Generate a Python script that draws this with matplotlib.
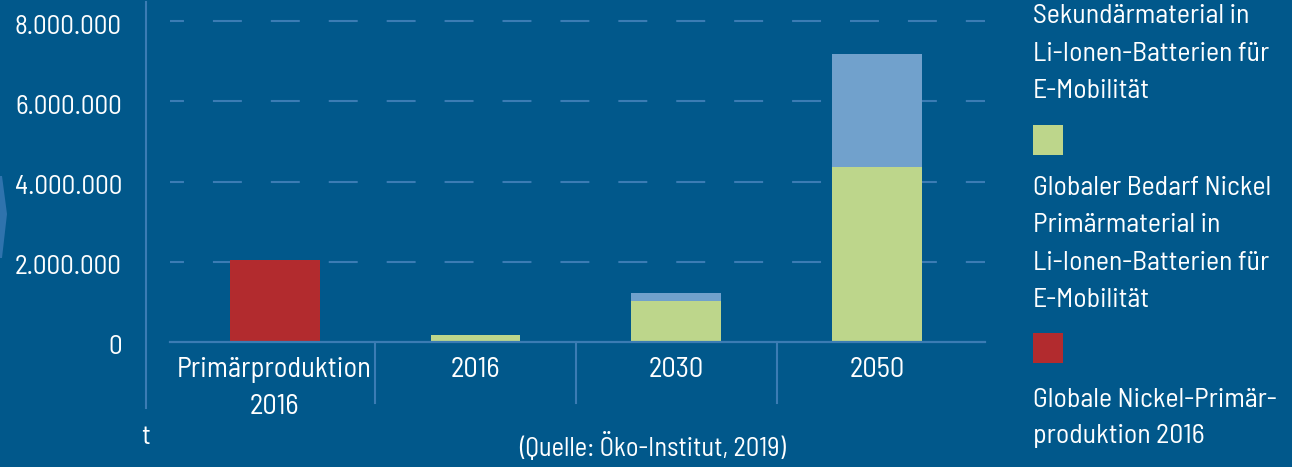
import matplotlib
matplotlib.use('Agg')
import matplotlib.pyplot as plt
from matplotlib.lines import Line2D
from matplotlib.patches import Rectangle, Polygon
from matplotlib.transforms import ScaledTranslation, blended_transform_factory

# Daten (Tonnen Nickel)
categories = ['Primärproduktion\n2016', '2016', '2030', '2050']
primaer_produktion = [2050000, 0, 0, 0]
primaer_batterien = [0, 180000, 1010000, 4370000]
sekundaer_batterien = [0, 0, 210000, 2820000]
yticks = [0, 2000000, 4000000, 6000000, 8000000]
ytick_labels = ['0', '2.000.000', '4.000.000', '6.000.000', '8.000.000']

legend_blau = ['Sekundärmaterial in', 'Li-Ionen-Batterien für', 'E-Mobilität']
legend_gruen = ['Globaler Bedarf Nickel', 'Primärmaterial in', 'Li-Ionen-Batterien für', 'E-Mobilität']
legend_rot = ['Globale Nickel-Primär-', 'produktion 2016']

BG = '#01588b'
GRID = '#3b7cb4'
RED = '#b22b2e'
GREEN = '#bdd68b'
BLUE = '#71a1cc'

plt.rcParams['font.family'] = ['Barlow Semi Condensed', 'DejaVu Sans']

W, H = 1292, 467
fig = plt.figure(figsize=(W / 100, H / 100), dpi=100)
fig.patch.set_facecolor(BG)

def fx(px):
    return px / W

def fy(py):
    return 1 - py / H

ax = fig.add_axes([fx(170), fy(342), fx(815), 341 / H])
ax.set_facecolor(BG)
ax.set_xlim(-0.52, 3.535)
ax.set_ylim(0, 8500000)
for s in ax.spines.values():
    s.set_visible(False)

x = list(range(len(categories)))
bw = 90 / 201
ax.bar(x, primaer_produktion, width=bw, color=RED, lw=0, zorder=3)
ax.bar(x, primaer_batterien, width=bw, color=GREEN, lw=0, zorder=3)
ax.bar(x, sekundaer_batterien, width=bw, bottom=primaer_batterien, color=BLUE, lw=0, zorder=3)

# gestrichelte Gitterlinien
for v in yticks[1:]:
    ax.axhline(v, color=GRID, lw=1.5, linestyle=(7.2, (13.9, 13.9)), zorder=1)
ax.axhline(0, color=GRID, lw=1.6, zorder=4, clip_on=False)

# Trennstriche zwischen Kategorien
trans = blended_transform_factory(ax.transData, ax.transAxes)
for xs in [0.5, 1.5, 2.5]:
    ax.plot([xs, xs], [0, -61 / 341], color=GRID, lw=1.5, transform=trans, clip_on=False)

# y-Achse
fig.add_artist(Line2D([fx(146), fx(146)], [fy(2), fy(408)], color=GRID, lw=1.5))

ax.set_yticks(yticks, ytick_labels)
ax.tick_params(axis='y', length=0, pad=34.6, labelsize=19.5, labelcolor='white')
for lbl in ax.get_yticklabels():
    lbl.set_transform(lbl.get_transform() + ScaledTranslation(0, -3 / 100, fig.dpi_scale_trans))

ax.set_xticks(x, categories)
ax.tick_params(axis='x', length=0, pad=11, labelsize=20.5, labelcolor='white')
for lbl in ax.get_xticklabels():
    lbl.set_linespacing(1.55)

fig.text(fx(146), fy(437), 't', ha='center', va='center', fontsize=20, color='white')
fig.text(fx(653), fy(446), '(Quelle: Öko-Institut, 2019)', ha='center', va='center',
         fontsize=19, color='white')

# Pfeil links (angeschnitten)
fig.add_artist(Polygon([(0, fy(176)), (fx(2), fy(176)), (fx(7), fy(214)), (fx(2), fy(258)), (0, fy(258))],
                       closed=True, transform=fig.transFigure, color='#2f73ad', lw=0))

# Legende
LFS = 20
lx = fx(1033)
for txt, yb in zip(legend_blau, [23, 61, 98]):
    fig.text(lx, fy(yb), txt, va='baseline', ha='left', fontsize=LFS, color='white')
fig.add_artist(Rectangle((lx, fy(155)), fx(30), 30 / H, transform=fig.transFigure, color=GREEN, lw=0))
for txt, yb in zip(legend_gruen, [195, 232, 270, 307]):
    fig.text(lx, fy(yb), txt, va='baseline', ha='left', fontsize=LFS, color='white')
fig.add_artist(Rectangle((lx, fy(363)), fx(30), 30 / H, transform=fig.transFigure, color=RED, lw=0))
for txt, yb in zip(legend_rot, [407, 443]):
    fig.text(lx, fy(yb), txt, va='baseline', ha='left', fontsize=LFS, color='white')

fig.savefig('out.png', dpi=100, facecolor=BG)
